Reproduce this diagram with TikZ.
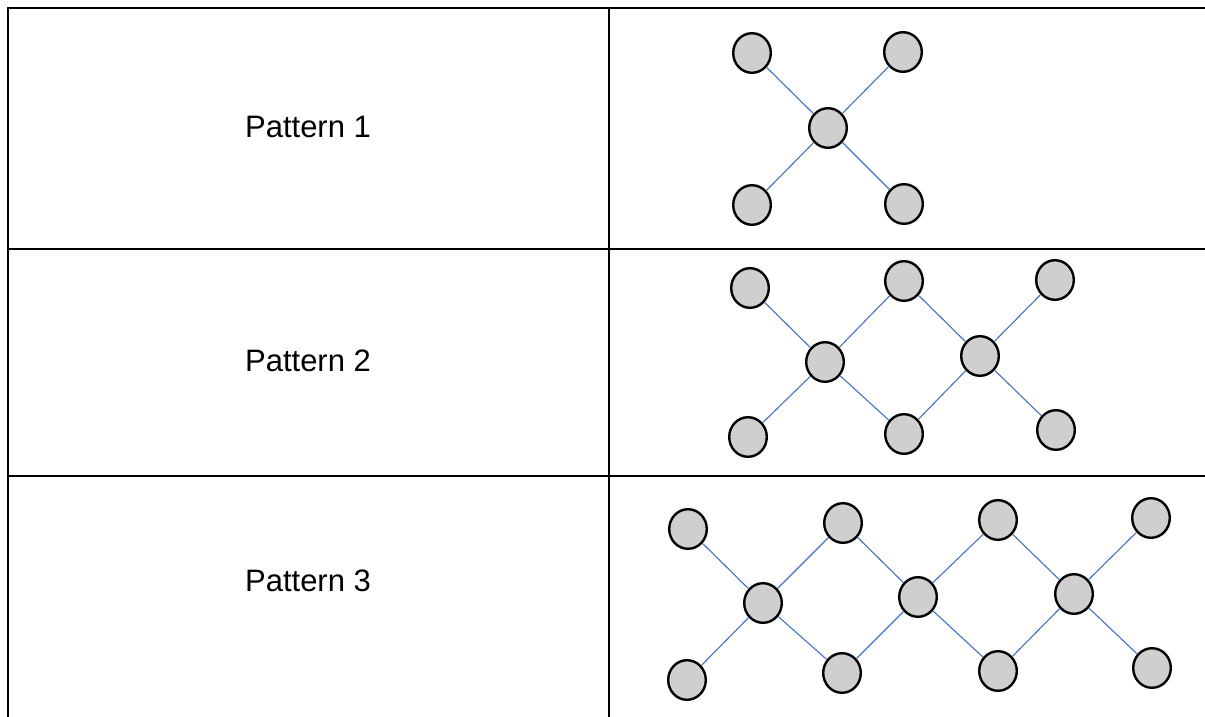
\documentclass[tikz,border=0pt]{standalone}
\usepackage{fontspec}
\setmainfont{Liberation Sans}
\usetikzlibrary{shapes.geometric}
\definecolor{nodegray}{RGB}{208,206,206}
\definecolor{wireblue}{RGB}{68,114,196}
\begin{document}
\begin{tikzpicture}[x=1pt, y=-1pt,
  vertex/.style={draw, ellipse, fill=nodegray, line width=2.4pt, minimum width=37.6pt, minimum height=39.6pt, inner sep=0pt},
  patternlabel/.style={font=\fontsize{31}{36}\selectfont, inner sep=0pt},
  wire/.style={draw=wireblue, line width=1.1pt},
  grid/.style={line width=2pt}]
\useasboundingbox (0,0) rectangle (1205,717);
% table
\draw[grid] (7.8,717) -- (7.8,7.8) -- (1205,7.8);
\draw[grid] (7.8,249) -- (1205,249);
\draw[grid] (7.8,476) -- (1205,476);
\draw[grid] (609,7.8) -- (609,717);
\node[patternlabel] (lab1) at (308,127) {Pattern 1};
\node[patternlabel] (lab2) at (308,361) {Pattern 2};
\node[patternlabel] (lab3) at (308,581) {Pattern 3};
% pattern 1
\node[vertex] (p1tl) at (752,53) {};
\node[vertex] (p1tr) at (903,52) {};
\node[vertex] (p1c) at (828,128) {};
\node[vertex] (p1bl) at (752,205) {};
\node[vertex] (p1br) at (904,204) {};
\draw[wire] (p1c) -- (p1tl);
\draw[wire] (p1c) -- (p1tr);
\draw[wire] (p1c) -- (p1bl);
\draw[wire] (p1c) -- (p1br);
% pattern 2
\node[vertex] (p2t1) at (750,288) {};
\node[vertex] (p2t2) at (904,281) {};
\node[vertex] (p2t3) at (1055,280) {};
\node[vertex] (p2m1) at (825,362) {};
\node[vertex] (p2m2) at (980,356) {};
\node[vertex] (p2b1) at (748,437) {};
\node[vertex] (p2b2) at (904,434) {};
\node[vertex] (p2b3) at (1056,430) {};
\draw[wire] (p2m1) -- (p2t1);
\draw[wire] (p2m1) -- (p2b1);
\draw[wire] (p2m1) -- (p2t2);
\draw[wire] (p2m1) -- (p2b2);
\draw[wire] (p2m2) -- (p2t2);
\draw[wire] (p2m2) -- (p2b2);
\draw[wire] (p2m2) -- (p2t3);
\draw[wire] (p2m2) -- (p2b3);
% pattern 3
\node[vertex] (p3t1) at (688,529) {};
\node[vertex] (p3t2) at (843,523) {};
\node[vertex] (p3t3) at (998,520) {};
\node[vertex] (p3t4) at (1151,518) {};
\node[vertex] (p3m1) at (763,603) {};
\node[vertex] (p3m2) at (918,597) {};
\node[vertex] (p3m3) at (1074,594) {};
\node[vertex] (p3b1) at (687,680) {};
\node[vertex] (p3b2) at (842,673) {};
\node[vertex] (p3b3) at (998,671) {};
\node[vertex] (p3b4) at (1152,668) {};
\draw[wire] (p3m1) -- (p3t1);
\draw[wire] (p3m1) -- (p3b1);
\draw[wire] (p3m1) -- (p3t2);
\draw[wire] (p3m1) -- (p3b2);
\draw[wire] (p3m2) -- (p3t2);
\draw[wire] (p3m2) -- (p3b2);
\draw[wire] (p3m2) -- (p3t3);
\draw[wire] (p3m2) -- (p3b3);
\draw[wire] (p3m3) -- (p3t3);
\draw[wire] (p3m3) -- (p3b3);
\draw[wire] (p3m3) -- (p3t4);
\draw[wire] (p3m3) -- (p3b4);
\end{tikzpicture}
\end{document}
